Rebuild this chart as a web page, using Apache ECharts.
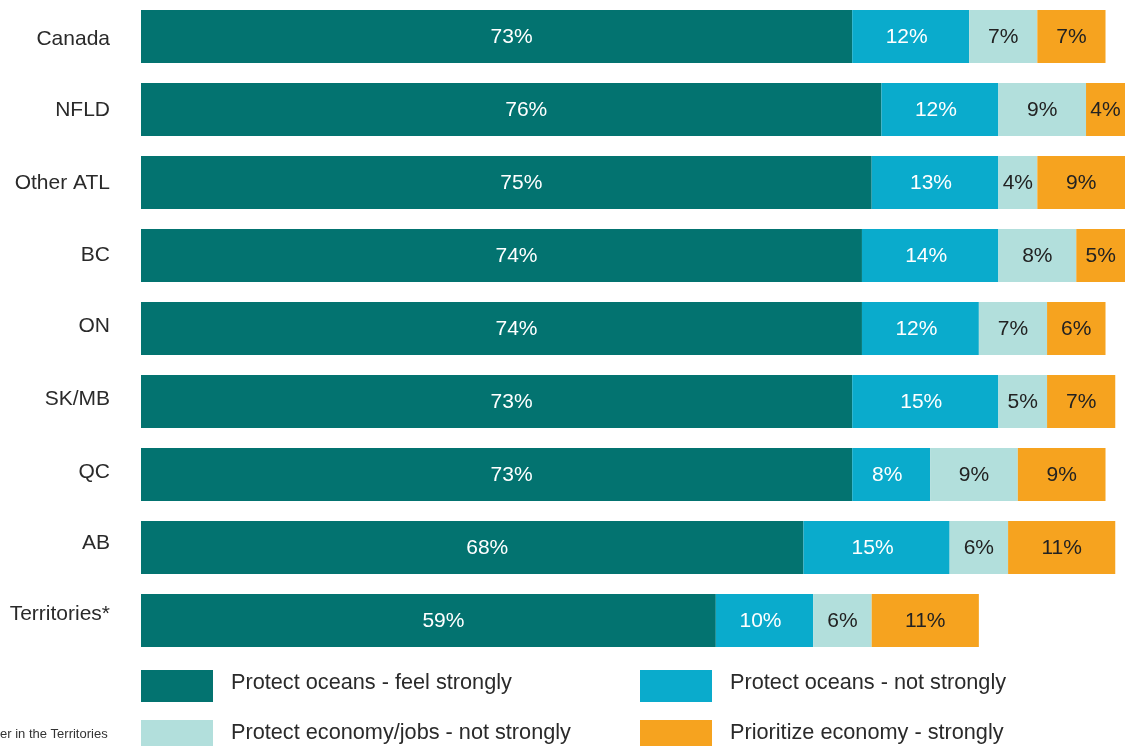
<!DOCTYPE html>
<html><head><meta charset="utf-8">
<script src="https://cdn.jsdelivr.net/npm/echarts@6/dist/echarts.min.js"></script>
<style>html,body{margin:0;padding:0;background:#fff}#c{width:1125px;height:746px}</style>
</head><body><div id="c"></div>
<script>
const categories = ['Canada','NFLD','Other ATL','BC','ON','SK/MB','QC','AB','Territories*'];
const seriesNames = ['Protect oceans - feel strongly','Protect oceans - not strongly','Protect economy/jobs - not strongly','Prioritize economy - strongly'];
const protectStrong = [73,76,75,74,74,73,73,68,59];
const protectNotStrong = [12,12,13,14,12,15,8,15,10];
const economyNotStrong = [7,9,4,8,7,5,9,6,6];
const economyStrong = [7,4,9,5,6,7,9,11,11];
const footnote = 'er in the Territories';

const colors = ['#037370','#0aabcc','#b2dfdc','#f6a31f'];
const labelColors = ['#ffffff','#ffffff','#222222','#222222'];
const labelShift = [[15,1],[-4,1],[0,1],[0,1]];
const values = [protectStrong, protectNotStrong, economyNotStrong, economyStrong];
const FONT = '"Liberation Sans", Arial, sans-serif';
// small vertical nudges of the category labels (px, + = down)
const catNudge = [3,1,1,0,-2,-2,-2,-4,-6];

const series = values.map((v,i)=>({
  name: seriesNames[i], type:'bar', stack:'t', barWidth:53,
  data: v, itemStyle:{color:colors[i]},
  label:{show:true, position:'inside', formatter:'{c}%', color:labelColors[i], fontSize:21, fontFamily:FONT, offset:labelShift[i]},
  emphasis:{disabled:true}
}));

const rich = {};
catNudge.forEach((d,i)=>{
  rich['r'+i] = {fontSize:21, color:'#2a2a2a', fontFamily:FONT,
    padding: d>=0 ? [2*d,0,0,0] : [0,0,-2*d,0]};
});

const legendPos = [[141,670],[640,670],[141,720],[640,720]];
const legends = seriesNames.map((n,i)=>({
  data:[n], left:legendPos[i][0], top:legendPos[i][1], padding:0,
  itemWidth:72, itemHeight:32, icon:'rect', selectedMode:false,
  formatter: name => '{a|' + name + '}',
  textStyle:{fontSize:21.7, color:'#2a2a2a', fontFamily:FONT, padding:[0,0,0,13],
    rich:{a:{fontSize:21.7, color:'#2a2a2a', fontFamily:FONT, padding:[0,0,6,0]}}}
}));

const chart = echarts.init(document.getElementById('c'));
chart.setOption({
  animation:false,
  grid:{left:141, right:0, top:0, height:657, containLabel:false},
  xAxis:{type:'value', min:0, max:101, show:false},
  yAxis:{type:'category', data:categories, inverse:true,
    axisLine:{show:false}, axisTick:{show:false},
    axisLabel:{fontSize:21, color:'#2a2a2a', fontFamily:FONT, margin:31,
      formatter:(v,i)=>'{r'+i+'|'+v+'}', rich:rich}},
  legend: legends,
  series: series,
  graphic:[{type:'text', left:0, top:728, style:{text:footnote, fontSize:13, fill:'#333', fontFamily:FONT}}]
});
</script></body></html>
